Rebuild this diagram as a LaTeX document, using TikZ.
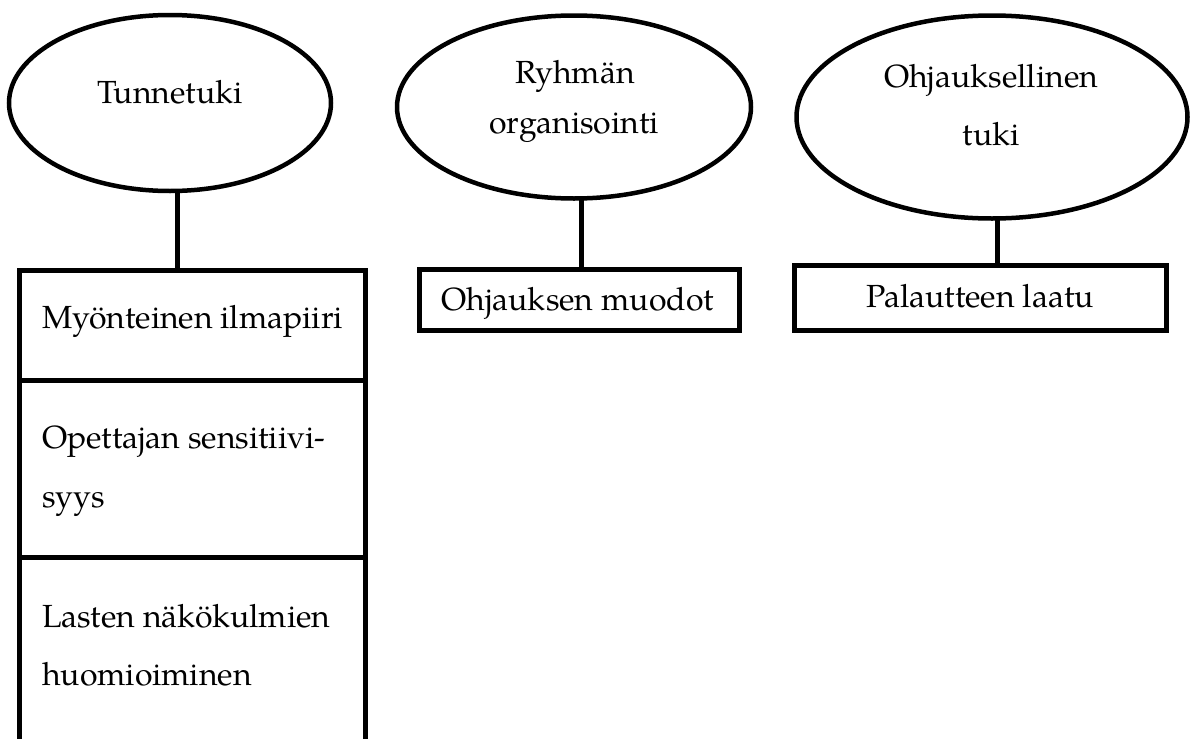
\documentclass[tikz,border=0pt]{standalone}
\usepackage{fontspec}
\setmainfont{TeX Gyre Pagella}
\usetikzlibrary{shapes.geometric}
\begin{document}
\begin{tikzpicture}[x=1pt,y=-1pt,
  oval/.style={ellipse, draw, line width=4.5pt, inner sep=0pt, outer sep=0pt},
  cell/.style={rectangle, draw, line width=5pt, inner sep=0pt, outer sep=0pt, anchor=north west},
  lbl/.style={font=\fontsize{32}{59}\selectfont, inner sep=0pt},
  link/.style={line width=5pt}]
\useasboundingbox (0,0) rectangle (1197,739);
\clip (0,0) rectangle (1197,739);
% ellipses
\node[oval, minimum width=322pt, minimum height=176pt] (e1) at (170,103) {};
\node[oval, minimum width=354pt, minimum height=183pt] (e2) at (574,107) {};
\node[oval, minimum width=391pt, minimum height=203pt] (e3) at (992,117) {};
% boxes
\node[cell, minimum width=346pt, minimum height=110pt] (b1a) at (19,270) {};
\node[cell, minimum width=346pt, minimum height=177.5pt] (b1b) at (19,380) {};
\node[cell, minimum width=346pt, minimum height=250pt] (b1c) at (19,557.5) {};
\node[cell, minimum width=320pt, minimum height=61pt] (b2) at (419,269) {};
\node[cell, minimum width=372pt, minimum height=65pt] (b3) at (794,265) {};
% connectors
\coordinate (c1) at (177,0);
\coordinate (c2) at (581,0);
\coordinate (c3) at (997,0);
\draw[link] (e1.south -| c1) -- (b1a.north -| c1);
\draw[link] (e2.south -| c2) -- (b2.north -| c2);
\draw[link] (e3.south -| c3) -- (b3.north -| c3);
% texts
\node[lbl, anchor=base] (t1) at (170,103) {Tunnetuki};
\node[lbl, anchor=base] (t2a) at (575,83) {Ryhmän};
\node[lbl, anchor=base] (t2b) at (574,133) {organisointi};
\node[lbl, anchor=base] (t3a) at (991,87) {Ohjauksellinen};
\node[lbl, anchor=base] (t3b) at (991,145) {tuki};
\node[lbl, anchor=base] (t4) at (577.5,310) {Ohjauksen muodot};
\node[lbl, anchor=base] (t5) at (980,307) {Palautteen laatu};
\node[lbl, anchor=base west] (t6) at (42,328) {Myönteinen ilmapiiri};
\node[lbl, anchor=base west] (t7a) at (42,448) {Opettajan sensitiivi-};
\node[lbl, anchor=base west] (t7b) at (42,507) {syys};
\node[lbl, anchor=base west] (t8a) at (42,627) {Lasten näkökulmien};
\node[lbl, anchor=base west] (t8b) at (42,685) {huomioiminen};
\end{tikzpicture}
\end{document}
